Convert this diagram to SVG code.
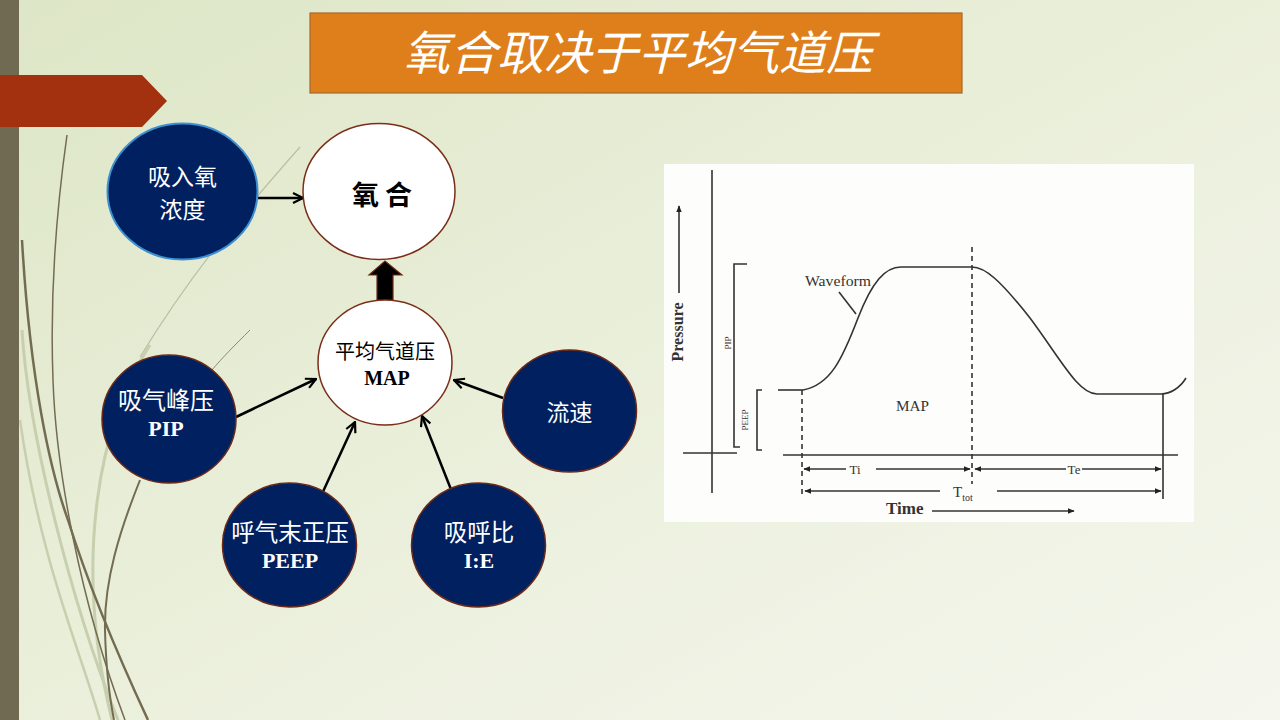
<svg xmlns="http://www.w3.org/2000/svg" width="1280" height="720" viewBox="0 0 1280 720">
<defs>
<linearGradient id="bg" x1="0" y1="0" x2="1" y2="1">
<stop offset="0" stop-color="#dde6c6"/>
<stop offset="0.6" stop-color="#edf1df"/>
<stop offset="1" stop-color="#f5f6ee"/>
</linearGradient>
<marker id="arr" viewBox="0 0 12 12" refX="11" refY="6" markerWidth="12" markerHeight="12" markerUnits="userSpaceOnUse" orient="auto">
<path d="M1,1 L11,6 L1,11" fill="none" stroke="#000" stroke-width="2.2"/>
</marker>
<marker id="sa" viewBox="0 0 10 10" refX="9" refY="5" markerWidth="7" markerHeight="7" markerUnits="userSpaceOnUse" orient="auto">
<path d="M0,1 L10,5 L0,9 Z" fill="#222"/>
</marker>
<style>
.cjk{font-family:"Noto Sans CJK SC","Noto Sans",sans-serif}
.ser{font-family:"Liberation Serif","Noto Sans CJK SC",serif}
.wt{fill:#ffffff}
.bk{fill:#000000}
.blue{fill:#012060;stroke:#6b2a18;stroke-width:1.5}
.white{fill:#ffffff;stroke:#7a2e1a;stroke-width:1.5}
.con{stroke:#000;stroke-width:2.5;fill:none;marker-end:url(#arr)}
.ln{stroke:#333;stroke-width:1.6;fill:none}
.dl{stroke:#333;stroke-width:1.6;fill:none;stroke-dasharray:5,4}
.ct{font-family:"Liberation Serif",serif;fill:#333}
.dark{stroke:#736c51;fill:none}
.light{stroke:#c8cfae;fill:none}
</style>
</defs>
<rect x="0" y="0" width="1280" height="720" fill="url(#bg)"/>
<!-- decorative wisps -->
<path class="light" stroke-width="3" d="M22,330 C28,430 70,600 118,720"/>
<path class="light" stroke-width="3" d="M150,345 C100,420 72,560 112,720"/>
<path class="light" stroke-width="2.5" d="M20,420 C40,560 80,650 100,720"/>
<path stroke="#b9c0a2" stroke-width="1.2" fill="none" d="M300,147 C240,215 190,275 140,357"/>
<path class="dark" stroke-width="1.5" d="M67,135 C55,220 50,300 53,380 C56,470 80,600 125,720"/>
<path class="dark" stroke-width="2.5" d="M22,240 C30,380 50,470 68,520 C90,590 120,660 148,720"/>
<path class="dark" stroke-width="2" d="M140,480 C120,530 104,580 105,630 C106,670 110,700 114,720"/>
<path stroke="#8a8a78" stroke-width="1" fill="none" d="M250,330 C235,345 222,358 212,370"/>
<rect x="0" y="0" width="19" height="720" fill="#706a52"/>
<polygon points="0,75 142,75 167,101 142,127 0,127" fill="#a3300f"/>
<!-- title -->
<g id="title">
<rect x="310" y="13" width="652" height="80" fill="#de7f1b" stroke="#a5682c" stroke-width="1.2"/>
<text x="638" y="70" text-anchor="middle" class="cjk wt" font-size="47" font-style="italic">氧合取决于平均气道压</text>
</g>
<!-- connectors -->
<g id="connectors">
<line class="con" x1="258" y1="198" x2="303" y2="198"/>
<line class="con" x1="236" y1="417" x2="316" y2="379"/>
<line class="con" x1="503" y1="398" x2="454" y2="380"/>
<line class="con" x1="321" y1="496" x2="355" y2="422"/>
<line class="con" x1="452" y1="492" x2="422" y2="416"/>
<polygon points="377,301 377,275 369,275 385,261 402,275 393,275 393,301" fill="#000" stroke="#6a2a10" stroke-width="1.2"/>
</g>
<!-- nodes -->
<g id="node-fio2">
<ellipse cx="182.5" cy="191.5" rx="75" ry="68" fill="#012060" stroke="#3d8fd0" stroke-width="2"/>
<text text-anchor="middle" class="cjk wt" font-size="23"><tspan x="182.5" y="184.5">吸入氧</tspan><tspan x="182.5" y="218">浓度</tspan></text>
</g>
<g id="node-oxygenation">
<ellipse cx="379" cy="191.5" rx="76" ry="68" class="white"/>
<text x="382" y="205" text-anchor="middle" class="cjk bk" font-size="27" font-weight="bold">氧 合</text>
</g>
<g id="node-map">
<ellipse cx="385" cy="362.5" rx="67" ry="62.5" class="white"/>
<text text-anchor="middle" class="cjk bk" font-size="20"><tspan x="385" y="359">平均气道压</tspan><tspan x="387" y="385" font-family="Liberation Serif, serif" font-weight="bold">MAP</tspan></text>
</g>
<g id="node-pip">
<ellipse cx="169" cy="419" rx="67" ry="64" class="blue"/>
<text text-anchor="middle" class="cjk wt" font-size="24"><tspan x="166" y="409">吸气峰压</tspan><tspan x="166" y="436" font-size="22" font-family="Liberation Serif, serif" font-weight="bold">PIP</tspan></text>
</g>
<g id="node-flow">
<ellipse cx="569.5" cy="411" rx="67" ry="61" class="blue"/>
<text x="569.5" y="421" text-anchor="middle" class="cjk wt" font-size="23">流速</text>
</g>
<g id="node-peep">
<ellipse cx="289.5" cy="545" rx="67" ry="62" class="blue"/>
<text text-anchor="middle" class="cjk wt" font-size="23.5"><tspan x="290" y="541">呼气末正压</tspan><tspan x="290" y="568" font-size="22" font-family="Liberation Serif, serif" font-weight="bold">PEEP</tspan></text>
</g>
<g id="node-ie">
<ellipse cx="478.5" cy="545" rx="67" ry="62" class="blue"/>
<text text-anchor="middle" class="cjk wt" font-size="23.5"><tspan x="479" y="541">吸呼比</tspan><tspan x="479" y="568" font-size="22" font-family="Liberation Serif, serif" font-weight="bold">I:E</tspan></text>
</g>
<!-- chart -->
<g id="chart">
<rect x="664" y="164" width="530" height="358" fill="#fdfdfb"/>
<line class="ln" x1="712" y1="170" x2="712" y2="493"/>
<line class="ln" x1="683" y1="453" x2="737" y2="453"/>
<line class="ln" x1="679" y1="293" x2="679" y2="206" marker-end="url(#sa)"/>
<text transform="translate(683,332) rotate(-90)" text-anchor="middle" class="ct" font-size="16" font-weight="bold">Pressure</text>
<polyline class="ln" points="747,264 734,264 734,447 740,447"/>
<text transform="translate(731,343) rotate(-90)" text-anchor="middle" class="ct" font-size="9">PIP</text>
<polyline class="ln" points="762,390 757,390 757,450 762,450"/>
<text transform="translate(748,420) rotate(-90)" text-anchor="middle" class="ct" font-size="9">PEEP</text>
<line class="ln" x1="778" y1="390" x2="803" y2="390"/>
<line class="ln" x1="783" y1="455" x2="1178" y2="455" stroke-width="2"/>
<path class="ln" stroke-width="1.8" d="M803,390 C830,385 842,360 858,318 C872,282 885,267 901,267 L972,267 C985,267 1000,280 1030,318 C1060,358 1078,394 1097,394 L1161,394 C1170,394 1180,388 1186,378"/>
<line class="ln" x1="1163" y1="394" x2="1163" y2="499"/>
<line class="dl" x1="802" y1="390" x2="802" y2="498"/>
<line class="dl" x1="972" y1="247" x2="972" y2="484" stroke-width="2.2"/>
<text x="805" y="286" class="ct" font-size="14" textLength="66" lengthAdjust="spacingAndGlyphs">Waveform</text>
<line class="ln" x1="839" y1="292" x2="856" y2="314"/>
<text x="896" y="411" class="ct" font-size="14" textLength="33" lengthAdjust="spacingAndGlyphs">MAP</text>
<line class="ln" x1="846" y1="469" x2="804" y2="469" marker-end="url(#sa)"/>
<line class="ln" x1="876" y1="469" x2="970" y2="469" marker-end="url(#sa)"/>
<text x="855" y="474" text-anchor="middle" class="ct" font-size="13">Ti</text>
<line class="ln" x1="1066" y1="469" x2="975" y2="469" marker-end="url(#sa)"/>
<line class="ln" x1="1082" y1="469" x2="1161" y2="469" marker-end="url(#sa)"/>
<text x="1074" y="474" text-anchor="middle" class="ct" font-size="13">Te</text>
<line class="ln" x1="940" y1="491" x2="805" y2="491" marker-end="url(#sa)"/>
<line class="ln" x1="997" y1="491" x2="1161" y2="491" marker-end="url(#sa)"/>
<text x="953" y="497" class="ct" font-size="15">T<tspan font-size="10" dy="4">tot</tspan></text>
<text x="886" y="514" class="ct" font-size="17" font-weight="bold">Time</text>
<line class="ln" x1="932" y1="511" x2="1074" y2="511" marker-end="url(#sa)"/>
</g>
</svg>
